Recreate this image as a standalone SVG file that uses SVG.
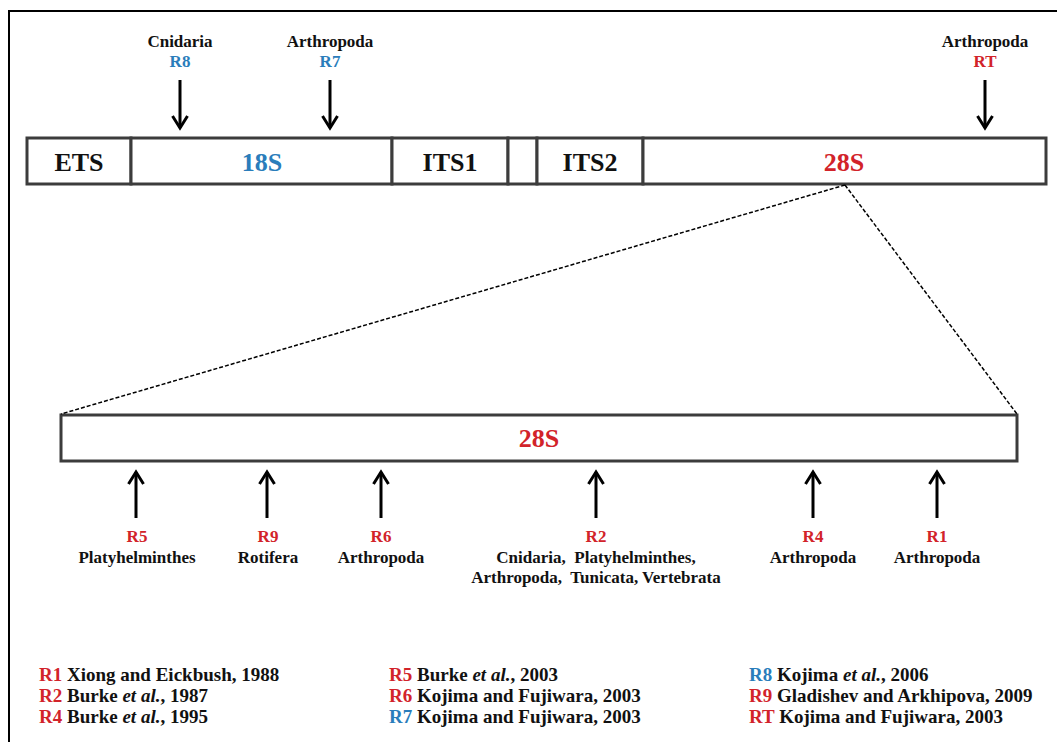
<svg xmlns="http://www.w3.org/2000/svg" width="1057" height="742" viewBox="0 0 1057 742">
  <style>
    text { font-family: "Liberation Serif", "Times New Roman", serif; font-weight: bold; fill: #111; }
    .seg { fill: #fff; stroke: #3c3c3c; stroke-width: 3; }
    .big { font-size: 26px; text-anchor: middle; }
    .lab { font-size: 17px; text-anchor: middle; }
    .leg { font-size: 19px; }
    .red { fill: #d2232a; }
    .blue { fill: #2a7dbb; }
    .arrow { stroke: #000; stroke-width: 3; fill: none; marker-end: url(#head); }
    .zoom { stroke: #000; stroke-width: 1.5; fill: none; stroke-dasharray: 4 2; }
    .frame { stroke: #000; stroke-width: 2; fill: none; }
  </style>
  <defs>
    <marker id="head" markerUnits="userSpaceOnUse" markerWidth="22" markerHeight="22" viewBox="-16 -11 22 22" refX="0" refY="0" orient="auto">
      <path d="M-12,-7.5 L0,0 L-12,7.5" fill="none" stroke="#000" stroke-width="3"/>
    </marker>
  </defs>

  <rect width="1057" height="742" fill="#fff"/>
  <path class="frame" d="M9,742 V11 H1057"/>

  <!-- rDNA unit -->
  <g id="ets"><rect class="seg" x="27" y="138" width="104" height="46"/><text class="big" x="79" y="171">ETS</text></g>
  <g id="s18"><rect class="seg" x="131" y="138" width="261" height="46"/><text class="big blue" x="262" y="171">18S</text></g>
  <g id="its1"><rect class="seg" x="392" y="138" width="116" height="46"/><text class="big" x="450" y="171">ITS1</text></g>
  <g id="s58"><rect class="seg" x="508" y="138" width="29" height="46"/></g>
  <g id="its2"><rect class="seg" x="537" y="138" width="106" height="46"/><text class="big" x="590" y="171">ITS2</text></g>
  <g id="s28"><rect class="seg" x="643" y="138" width="403" height="46"/><text class="big red" x="844" y="171">28S</text></g>

  <!-- expanded 28S -->
  <g id="s28-detail"><rect class="seg" x="61" y="415" width="956" height="46"/><text class="big red" x="539" y="447">28S</text></g>

  <!-- insertion labels above the unit -->
  <g id="lab-r8"><text class="lab" x="180" y="47">Cnidaria</text><text class="lab blue" x="180" y="67">R8</text></g>
  <g id="lab-r7"><text class="lab" x="330" y="47">Arthropoda</text><text class="lab blue" x="330" y="67">R7</text></g>
  <g id="lab-rt"><text class="lab" x="985" y="47">Arthropoda</text><text class="lab red" x="985" y="67">RT</text></g>

  <!-- insertion labels below 28S -->
  <g id="lab-r5"><text class="lab red" x="137" y="542">R5</text><text class="lab" x="137" y="563">Platyhelminthes</text></g>
  <g id="lab-r9"><text class="lab red" x="268" y="542">R9</text><text class="lab" x="268" y="563">Rotifera</text></g>
  <g id="lab-r6"><text class="lab red" x="381" y="542">R6</text><text class="lab" x="381" y="563">Arthropoda</text></g>
  <g id="lab-r2"><text class="lab red" x="596" y="542">R2</text><text class="lab" x="596" y="563">Cnidaria,&#160; Platyhelminthes,</text><text class="lab" x="596" y="583">Arthropoda,&#160; Tunicata, Vertebrata</text></g>
  <g id="lab-r4"><text class="lab red" x="813" y="542">R4</text><text class="lab" x="813" y="563">Arthropoda</text></g>
  <g id="lab-r1"><text class="lab red" x="937" y="542">R1</text><text class="lab" x="937" y="563">Arthropoda</text></g>

  <!-- connectors -->
  <g id="connectors">
    <path class="zoom" d="M845,185 L61,414"/>
    <path class="zoom" d="M845,185 L1017,414"/>
    <line class="arrow" x1="180" y1="80" x2="180" y2="128"/>
    <line class="arrow" x1="330" y1="80" x2="330" y2="128"/>
    <line class="arrow" x1="985" y1="80" x2="985" y2="128"/>
    <line class="arrow" x1="136" y1="518" x2="136" y2="472"/>
    <line class="arrow" x1="267" y1="518" x2="267" y2="472"/>
    <line class="arrow" x1="381" y1="518" x2="381" y2="472"/>
    <line class="arrow" x1="596" y1="518" x2="596" y2="472"/>
    <line class="arrow" x1="813" y1="518" x2="813" y2="472"/>
    <line class="arrow" x1="937" y1="518" x2="937" y2="472"/>
  </g>

  <!-- references -->
  <g id="legend" class="leg">
    <text class="leg" x="39" y="681"><tspan class="red">R1</tspan> Xiong and Eickbush, 1988</text>
    <text class="leg" x="39" y="702"><tspan class="red">R2</tspan> Burke <tspan font-style="italic">et al.</tspan>, 1987</text>
    <text class="leg" x="39" y="723"><tspan class="red">R4</tspan> Burke <tspan font-style="italic">et al.</tspan>, 1995</text>
    <text class="leg" x="389" y="681"><tspan class="red">R5</tspan> Burke <tspan font-style="italic">et al.</tspan>, 2003</text>
    <text class="leg" x="389" y="702"><tspan class="red">R6</tspan> Kojima and Fujiwara, 2003</text>
    <text class="leg" x="389" y="723"><tspan class="blue">R7</tspan> Kojima and Fujiwara, 2003</text>
    <text class="leg" x="749" y="681"><tspan class="blue">R8</tspan> Kojima <tspan font-style="italic">et al.</tspan>, 2006</text>
    <text class="leg" x="749" y="702"><tspan class="red">R9</tspan> Gladishev and Arkhipova, 2009</text>
    <text class="leg" x="749" y="723"><tspan class="red">RT</tspan> Kojima and Fujiwara, 2003</text>
  </g>
</svg>
